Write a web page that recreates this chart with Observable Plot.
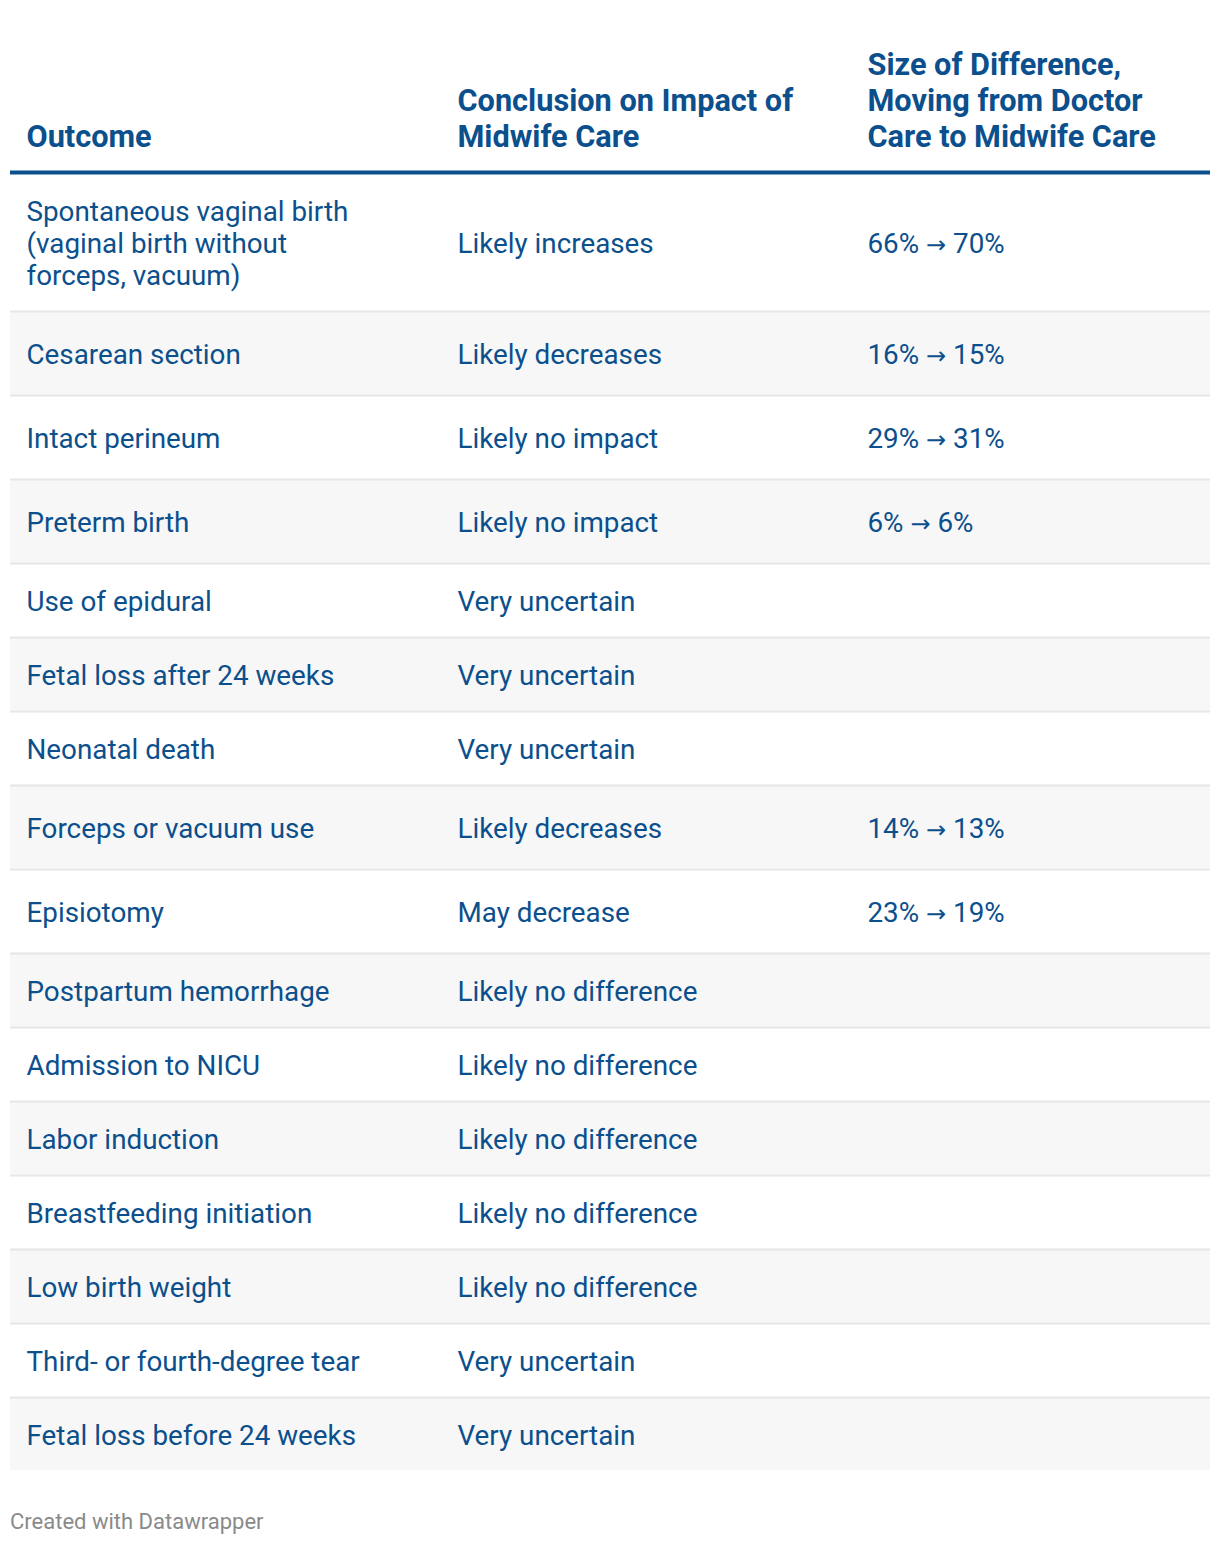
<!DOCTYPE html>
<html><head><meta charset="utf-8">
<script src="https://cdn.jsdelivr.net/npm/d3@7"></script>
<script src="https://cdn.jsdelivr.net/npm/@observablehq/plot@0.6"></script>
<style>
body{margin:0;background:#fff;}
#footer{font-family:Roboto,sans-serif;font-size:22px;color:#8a8a8a;margin:20px 0 0 10px;line-height:24px}
</style></head><body>
<div id="chart"></div>
<div id="footer">Created with Datawrapper</div>
<script>
const headers = ["Outcome", "Conclusion on Impact of\nMidwife Care", "Size of Difference,\nMoving from Doctor\nCare to Midwife Care"];
const outcomes = [
  "Spontaneous vaginal birth\n(vaginal birth without\nforceps, vacuum)",
  "Cesarean section",
  "Intact perineum",
  "Preterm birth",
  "Use of epidural",
  "Fetal loss after 24 weeks",
  "Neonatal death",
  "Forceps or vacuum use",
  "Episiotomy",
  "Postpartum hemorrhage",
  "Admission to NICU",
  "Labor induction",
  "Breastfeeding initiation",
  "Low birth weight",
  "Third- or fourth-degree tear",
  "Fetal loss before 24 weeks"
];
const conclusions = [
  "Likely increases",
  "Likely decreases",
  "Likely no impact",
  "Likely no impact",
  "Very uncertain",
  "Very uncertain",
  "Very uncertain",
  "Likely decreases",
  "May decrease",
  "Likely no difference",
  "Likely no difference",
  "Likely no difference",
  "Likely no difference",
  "Likely no difference",
  "Very uncertain",
  "Very uncertain"
];
const doctorPct  = [66, 16, 29, 6, null, null, null, 14, 23, null, null, null, null, null, null, null];
const midwifePct = [70, 15, 31, 6, null, null, null, 13, 19, null, null, null, null, null, null, null];

const blue = "#0b4f8c";
const W = 1220, left = 10, right = 1210;
const colX = [26, 457, 867];
const headerBaseline = 146;
const headerRule = 172;
let cursor = 174;
const rows = outcomes.map((o, i) => {
  const lines = o.split("\n").length;
  const has = doctorPct[i] != null;
  const h = Math.max(lines * 32 + 40, has ? 82 : 72);
  const r = {
    i, outcome: o, conclusion: conclusions[i],
    value: has ? `${doctorPct[i]}% \u2192 ${midwifePct[i]}%` : "",
    y1: cursor, y2: cursor + h, mid: cursor + h / 2,
    last: i === outcomes.length - 1
  };
  cursor += h + 2;
  return r;
});
const H = rows[rows.length - 1].y2 + 20;

const cells = rows.flatMap(r => [
  {col: 0, text: r.outcome, mid: r.mid},
  {col: 1, text: r.conclusion, mid: r.mid},
  {col: 2, text: r.value, mid: r.mid}
]).filter(c => c.text);

const chart = Plot.plot({
  width: W, height: H,
  margin: 0,
  style: {fontFamily: "Roboto, sans-serif", background: "#fff"},
  x: {domain: [0, W], range: [0, W], axis: null},
  y: {domain: [0, H], range: [0, H], axis: null},
  marks: [
    Plot.rect(rows.filter(r => r.i % 2 === 1), {x1: () => left, x2: () => right, y1: "y1", y2: "y2", fill: "#f7f7f7"}),
    Plot.ruleY(rows.filter(r => !r.last), {y: r => r.y2 + 1, x1: () => left, x2: () => right, stroke: "#e6e6e6", strokeWidth: 2}),
    Plot.ruleY([headerRule], {x1: () => left, x2: () => right, stroke: blue, strokeWidth: 4}),
    Plot.text(headers, {x: (d, i) => colX[i], y: () => headerBaseline, text: d => d, lineAnchor: "bottom", textAnchor: "start", fontWeight: "bold", fontSize: 30.7, lineHeight: 36 / 30.7, fill: blue}),
    Plot.text(cells, {x: c => colX[c.col], y: "mid", text: "text", lineAnchor: "middle", textAnchor: "start", fontSize: 27.8, lineHeight: 32 / 27.8, fill: blue})
  ]
});
// render the arrow glyph with a font that has a full-size arrow
chart.querySelectorAll("text").forEach(t => {
  if (t.children.length === 0 && t.textContent.includes("\u2192")) {
    const [a, b] = t.textContent.split("\u2192");
    t.textContent = "";
    const s1 = document.createElementNS("http://www.w3.org/2000/svg", "tspan");
    s1.textContent = a;
    const s2 = document.createElementNS("http://www.w3.org/2000/svg", "tspan");
    s2.textContent = "\u2192";
    s2.setAttribute("font-family", "DejaVu Sans");
    s2.setAttribute("font-size", "24");
    const s3 = document.createElementNS("http://www.w3.org/2000/svg", "tspan");
    s3.textContent = b;
    t.append(s1, s2, s3);
  }
});
document.getElementById("chart").appendChild(chart);
</script>
</body></html>
